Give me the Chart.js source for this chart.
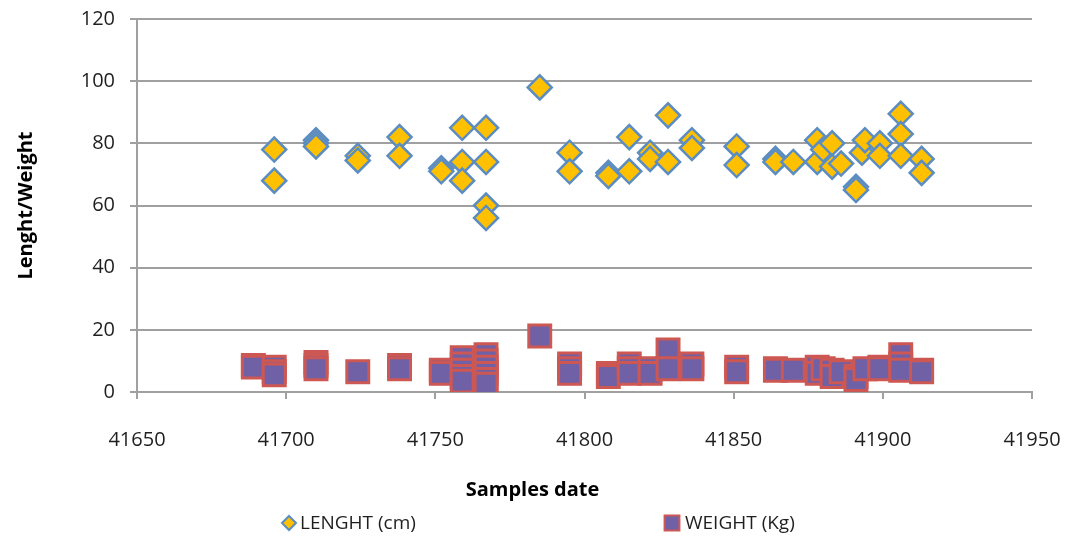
<!DOCTYPE html>
<html>
<head>
<meta charset="utf-8">
<script src="https://cdn.jsdelivr.net/npm/chart.js@4.4.1/dist/chart.umd.min.js"></script>
<style>
  html, body { margin: 0; padding: 0; background: #fff; }
  #wrap { width: 1065px; height: 539px; position: relative; }
</style>
</head>
<body>
<div id="wrap"><canvas id="chart" width="1065" height="539"></canvas></div>
<script>
// sample dates (Excel serial numbers) and values
const lengthDates = [
  41696, 41696,
  41710, 41710, 41710,
  41724, 41724,
  41738, 41738,
  41752, 41752,
  41759, 41759, 41759,
  41767, 41767, 41767, 41767,
  41785,
  41795, 41795,
  41808, 41808,
  41815, 41815,
  41822, 41822,
  41828, 41828,
  41836, 41836,
  41851, 41851,
  41864, 41864,
  41870,
  41878, 41878,
  41880,
  41883, 41883,
  41886,
  41891, 41891,
  41893,
  41894,
  41899, 41899,
  41906, 41906, 41906,
  41913, 41913
];
const lengthValues = [
  78, 68,
  81, 80, 79,
  76, 74.5,
  82, 76,
  72, 71,
  85, 74, 68,
  85, 74, 60, 56,
  98,
  77, 71,
  70.5, 69.5,
  82, 71,
  77, 75,
  89, 74,
  81, 78.5,
  79, 73,
  75, 74,
  74,
  81, 74,
  78,
  80, 72.5,
  73.5,
  66, 65,
  77,
  81,
  80, 76,
  89.5, 83, 76,
  75, 70.5
];

const weightDates = [
  41689, 41689,
  41696, 41696, 41696,
  41710, 41710, 41710,
  41724,
  41738, 41738,
  41752, 41752,
  41759, 41759, 41759, 41759, 41759,
  41767, 41767, 41767, 41767, 41767, 41767,
  41785,
  41795, 41795, 41795,
  41808, 41808,
  41815, 41815, 41815,
  41822, 41822,
  41828, 41828,
  41836, 41836,
  41851, 41851,
  41864, 41864,
  41870,
  41878, 41878,
  41880,
  41883, 41883,
  41886,
  41891, 41891,
  41894,
  41899, 41899,
  41906, 41906, 41906,
  41913, 41913
];
const weightValues = [
  8.5, 8,
  8, 6.5, 5.5,
  9.5, 8.5, 7.5,
  6.5,
  8.5, 7.5,
  7, 6,
  11, 9, 7, 5, 3.5,
  12, 10, 8, 6, 4, 2.5,
  18,
  9, 7.5, 6,
  6, 5,
  9, 7.5, 6,
  7.5, 6,
  13.5, 7.5,
  9, 7.5,
  8, 6.5,
  7.5, 7,
  7,
  8, 6,
  7.5,
  7, 5,
  6.5,
  5, 4,
  7.5,
  8, 7.5,
  12, 9, 7,
  7, 6.5
];

const xTicks = [41650, 41700, 41750, 41800, 41850, 41900, 41950];
const yTicks = [0, 20, 40, 60, 80, 100, 120];

const seriesNames = ["LENGHT (cm)", "WEIGHT (Kg)"];

const gridColor = "#a0a0a0";
const textColor = "#1f1f1f";

function toPoints(xs, ys) {
  return xs.map((x, i) => ({ x: x, y: ys[i] }));
}

// legend drawn by hand so the two entries sit far apart like the original
const spreadLegend = {
  id: "spreadLegend",
  afterDraw(chart) {
    const ctx = chart.ctx;
    const spots = [{ mx: 289, tx: 300 }, { mx: 672, tx: 685 }];
    const legendY = 523;
    chart.data.datasets.forEach((ds, i) => {
      const s = spots[i];
      ctx.save();
      ctx.fillStyle = ds.backgroundColor;
      ctx.strokeStyle = ds.borderColor;
      ctx.lineWidth = 2;
      Chart.helpers.drawPoint(ctx, {
        pointStyle: ds.pointStyle,
        radius: ds.pointStyle === "rect" ? 10.5 : 7,
        rotation: 0,
        borderWidth: 2
      }, s.mx, legendY);
      ctx.fillStyle = textColor;
      ctx.font = '19px "Open Sans"';
      ctx.textBaseline = "middle";
      ctx.textAlign = "left";
      ctx.fillText(ds.label, s.tx, legendY + 1);
      ctx.restore();
    });
  }
};

const ctx = document.getElementById("chart").getContext("2d");
new Chart(ctx, {
  type: "scatter",
  data: {
    datasets: [
      {
        label: seriesNames[0],
        data: toPoints(lengthDates, lengthValues),
        pointStyle: "rectRot",
        pointRadius: 12,
        pointHoverRadius: 12,
        borderWidth: 2.5,
        backgroundColor: "#ffc000",
        borderColor: "#5b8dc2"
      },
      {
        label: seriesNames[1],
        data: toPoints(weightDates, weightValues),
        pointStyle: "rect",
        pointRadius: 15.5,
        pointHoverRadius: 15.5,
        borderWidth: 3,
        backgroundColor: "#7060a6",
        borderColor: "#cd5753"
      }
    ]
  },
  options: {
    responsive: false,
    animation: false,
    layout: { padding: { top: 19, right: 0, left: 0, bottom: 0 } },
    plugins: {
      legend: { display: false },
      tooltip: { enabled: false },
      // x axis caption: centred on the whole canvas like the original
      title: {
        display: true,
        position: "bottom",
        text: "Samples date",
        color: "#000",
        font: { family: "Open Sans", size: 20, weight: "bold" },
        padding: { top: 0, bottom: 37 }
      }
    },
    scales: {
      x: {
        type: "linear",
        min: 41650,
        max: 41950,
        afterBuildTicks: (scale) => { scale.ticks = xTicks.map(v => ({ value: v })); },
        afterFit: (scale) => {
          scale.height = 86;
          scale.paddingLeft = 0;
          scale.paddingRight = 33;
        },
        grid: { drawOnChartArea: false, drawTicks: true, tickLength: 7, color: gridColor, lineWidth: 2 },
        border: { display: true, color: gridColor, width: 2 },
        ticks: {
          padding: 29,
          color: textColor,
          font: { family: "Open Sans", size: 20 },
          maxRotation: 0,
          callback: (v) => String(v)
        }
      },
      y: {
        min: 0,
        max: 120,
        afterBuildTicks: (scale) => { scale.ticks = yTicks.map(v => ({ value: v })); },
        afterFit: (scale) => {
          scale.width = 137;
          scale.paddingTop = 0;
          scale.paddingBottom = 0;
        },
        grid: { color: gridColor, lineWidth: 2, tickLength: 7 },
        border: { display: true, color: gridColor, width: 2 },
        ticks: {
          padding: 15,
          color: textColor,
          font: { family: "Open Sans", size: 20 }
        },
        title: {
          display: true,
          text: "Lenght/Weight",
          color: "#000",
          font: { family: "Open Sans", size: 20, weight: "bold" },
          padding: { top: 14, bottom: 0 }
        }
      }
    }
  },
  plugins: [spreadLegend]
});
</script>
</body>
</html>
